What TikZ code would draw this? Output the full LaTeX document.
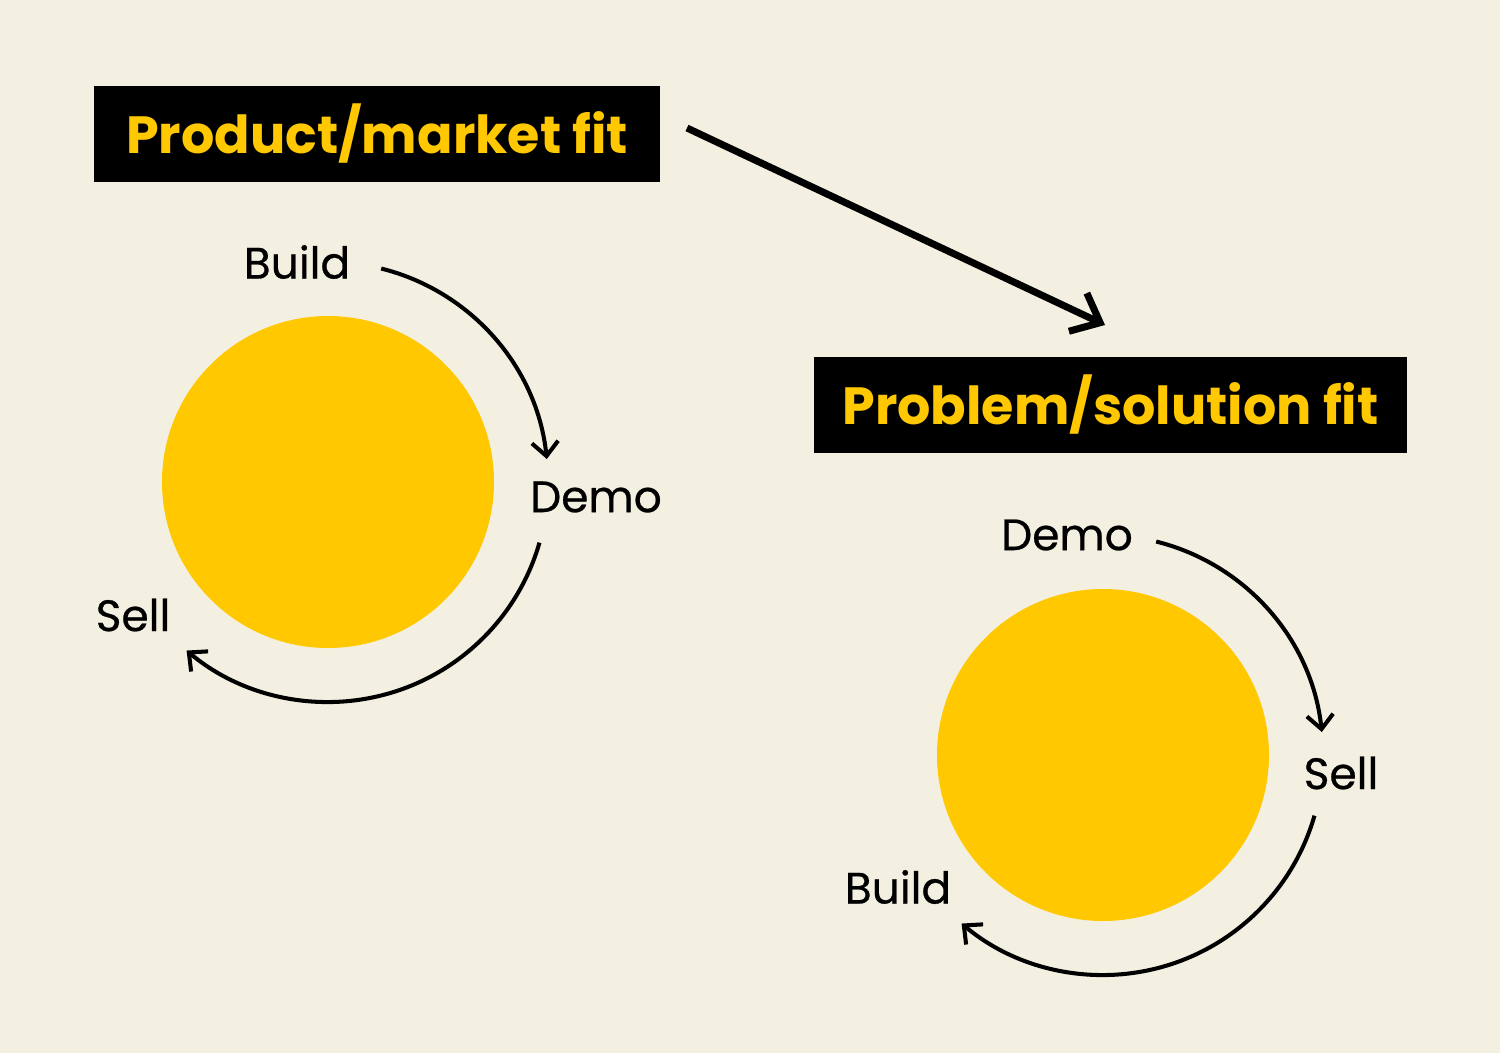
\documentclass[tikz,border=0pt]{standalone}
\usepackage{fontspec}
\setmainfont{Poppins}
\newfontfamily\stagefont{Poppins}[FakeBold=0.6]
\usepackage{tikz}
\usetikzlibrary{arrows.meta, positioning}
\definecolor{paper}{HTML}{F3F0E2}
\definecolor{sun}{HTML}{FFC800}
\tikzset{>={Straight Barb[length=4pt,width=7.5pt]}}
\tikzset{
  fitbox/.style={rectangle,fill=black,text=sun,font=\bfseries\fontsize{14.9}{16}\selectfont,inner sep=0pt},
  stage/.style={font=\stagefont\fontsize{12.5}{14}\selectfont,inner sep=0pt},
  blob/.style={circle,fill=sun,minimum size=3.32cm,inner sep=0pt},
  loop/.style={line width=1.15pt,->}
}

\begin{document}
\begin{tikzpicture}
  \fill[paper] (0,0) rectangle (15,-10.53);
  \useasboundingbox (0,0) rectangle (15,-10.53);
  % headings
  \node (pmf) at (3.77,-1.34)[fitbox,minimum width=5.66cm,minimum height=0.96cm] {Product/market fit};
  \node (psf) at (11.105,-4.05)[fitbox,minimum width=5.93cm,minimum height=0.96cm] {Problem/solution fit};
  \coordinate (go) at (6.87,-1.28);
  \coordinate (come) at (11.05,-3.25);
  \draw [line width=2pt,->,>={Straight Barb[length=7pt,width=12pt]}] (go) -- (come);

  % left cycle
  \node (c1) at (3.28,-4.82)[blob] {};
  \node (b1) at (2.97,-2.62)[stage] {Build};
  \node (d1) at (5.96,-4.97)[stage] {Demo};
  \node (s1) at (1.33,-6.15)[stage] {Sell};
  \draw [loop] ([shift={(76:2.2)}]c1.center) arc[start angle=76,end angle=6,radius=2.2];
  \draw [loop] ([shift={(-16:2.2)}]c1.center) arc[start angle=-16,end angle=-130,radius=2.2];

  % right cycle
  \node (c2) at (11.03,-7.55)[blob] {};
  \node (d2) at (10.67,-5.35)[stage] {Demo};
  \node (s2) at (13.41,-7.73)[stage] {Sell};
  \node (b2) at (8.98,-8.87)[stage] {Build};
  \draw [loop] ([shift={(76:2.2)}]c2.center) arc[start angle=76,end angle=6,radius=2.2];
  \draw [loop] ([shift={(-16:2.2)}]c2.center) arc[start angle=-16,end angle=-130,radius=2.2];
\end{tikzpicture}
\end{document}
